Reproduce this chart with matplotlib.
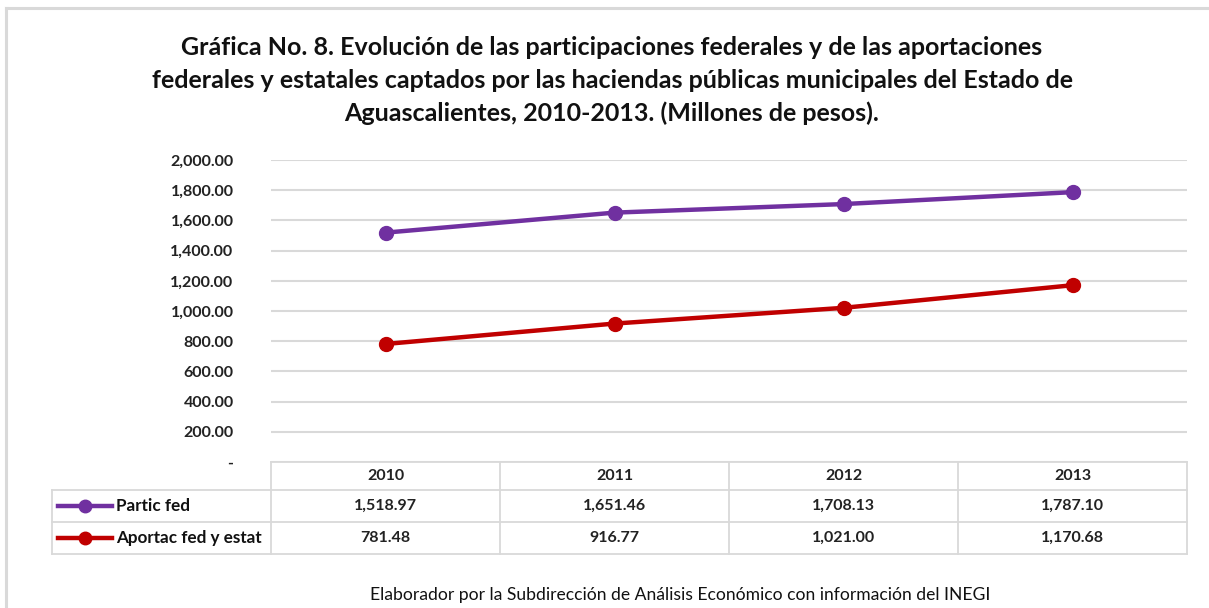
import matplotlib
matplotlib.use("Agg")
import matplotlib.pyplot as plt
from matplotlib.lines import Line2D
import numpy as np

years = ["2010", "2011", "2012", "2013"]
partic_fed = [1518.97, 1651.46, 1708.13, 1787.10]
aportac = [781.48, 916.77, 1021.00, 1170.68]
series_names = ["Partic fed", "Aportac fed y estat"]
series_colors = ["#7030A0", "#C00000"]
yticks = [0, 200, 400, 600, 800, 1000, 1200, 1400, 1600, 1800, 2000]

title = ("Gráfica No. 8. Evolución de las participaciones federales y de las aportaciones\n"
         "federales y estatales captados por las haciendas públicas municipales del Estado de\n"
         "Aguascalientes, 2010-2013. (Millones de pesos).")
footer = "Elaborador por la Subdirección de Análisis Económico con información del INEGI"

plt.rcParams['font.family'] = ['Lato', 'DejaVu Sans']

W, H = 1209, 608
fig = plt.figure(figsize=(W / 100, H / 100), dpi=100)

def fx(px):
    return px / W

def fy(py):
    return 1 - py / H

ax_left, ax_right, ax_top, ax_bot = 271, 1187, 160, 462
ax = fig.add_axes([fx(ax_left), fy(ax_bot), fx(ax_right - ax_left), (ax_bot - ax_top) / H])

x = np.arange(len(years))
for vals, col in zip([partic_fed, aportac], series_colors):
    ax.plot(x, vals, color=col, lw=3.2, marker='o', ms=10, zorder=3)

ax.set_xlim(-0.5, len(years) - 0.5)
ax.set_ylim(0, 2000)
ax.set_yticks(yticks)
ax.set_yticklabels(["-" if v == 0 else f"{v:,.2f}" for v in yticks], fontsize=11.5,
                   fontweight='bold', color='#222222')
ax.tick_params(axis='y', length=0, pad=27)
ax.set_xticks([])
for s in ax.spines.values():
    s.set_visible(False)
ax.grid(axis='y', color='#D9D9D9', lw=1.5, zorder=0)
ax.set_axisbelow(True)

# data table below axes
axh = ax_bot - ax_top
def ay(py):
    return -(py - ax_bot) / axh

trans = ax.get_xaxis_transform()
col_w_px = (ax_right - ax_left) / len(years)
label_left = -0.5 - (ax_left - 52) / col_w_px
row_edges = [462, 490, 522, 554]
gc = '#D9D9D9'
lw = 1.3
ax.add_line(Line2D([-0.5, len(years) - 0.5], [ay(row_edges[0])] * 2, transform=trans, color=gc, lw=lw, clip_on=False))
for r in row_edges[1:]:
    ax.add_line(Line2D([label_left, len(years) - 0.5], [ay(r)] * 2, transform=trans, color=gc, lw=lw, clip_on=False))
for i in range(len(years) + 1):
    ax.add_line(Line2D([i - 0.5, i - 0.5], [ay(row_edges[0]), ay(row_edges[-1])], transform=trans, color=gc, lw=lw, clip_on=False))
ax.add_line(Line2D([label_left, label_left], [ay(row_edges[1]), ay(row_edges[-1])], transform=trans, color=gc, lw=lw, clip_on=False))

for i, yr in enumerate(years):
    ax.text(i, ay((row_edges[0] + row_edges[1]) / 2), yr, transform=trans, ha='center', va='center',
            fontsize=11.5, fontweight='bold', color='#222222')
for r, (name, vals, col) in enumerate(zip(series_names, [partic_fed, aportac], series_colors)):
    yc = ay((row_edges[r + 1] + row_edges[r + 2]) / 2)
    for i, v in enumerate(vals):
        ax.text(i, yc, f"{v:,.2f}", transform=trans, ha='center', va='center',
                fontsize=11.5, fontweight='bold', color='#222222')
    lx0 = label_left + 6 / col_w_px
    lx1 = label_left + 60 / col_w_px
    ax.add_line(Line2D([lx0, lx1], [yc, yc], transform=trans, color=col, lw=3.2, clip_on=False))
    ax.add_line(Line2D([(lx0 + lx1) / 2], [yc], transform=trans, color=col, marker='o', ms=9, clip_on=False))
    ax.text(label_left + 64 / col_w_px, yc, name, transform=trans, ha='left', va='center',
            fontsize=12.3, fontweight='bold', color='#111111')

fig.text(fx(612), fy(80.5), title, ha='center', va='center', fontsize=18, fontweight='bold',
         color='#111111', linespacing=1.52)
fig.text(fx(680), fy(595), footer, ha='center', va='center', fontsize=12.6, color='#111111')

fig.add_artist(Line2D([fx(6), 1], [fy(8), fy(8)], transform=fig.transFigure, color='#D9D9D9', lw=2.2))
fig.add_artist(Line2D([fx(6), fx(6)], [fy(8), 0], transform=fig.transFigure, color='#D9D9D9', lw=2.2))

fig.savefig("out.png", dpi=100)
